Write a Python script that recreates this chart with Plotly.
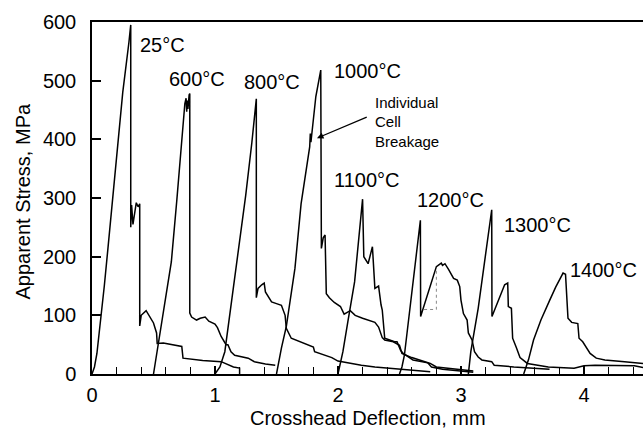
import plotly.graph_objects as go

# ---- data ----
t25_x = [0, 0.02, 0.04, 0.06, 0.08, 0.10, 0.13, 0.17, 0.20, 0.25, 0.30, 0.315,
         0.315, 0.322, 0.333, 0.36, 0.375, 0.388, 0.388,
         0.40, 0.44, 0.47, 0.50, 0.525, 0.53, 0.58, 0.66, 0.73, 0.74,
         0.90, 1.05, 1.10, 1.15, 1.20, 1.20]
t25_y = [0, 12, 35, 70, 108, 150, 215, 300, 370, 480, 565, 595,
         250, 288, 255, 292, 285, 290, 82,
         100, 108, 98, 87, 70, 52, 53, 50, 47, 27,
         23, 21, 17, 12, 10, 0]

t600_x = [0.50, 0.54, 0.58, 0.645, 0.69, 0.72, 0.755, 0.765, 0.77, 0.775, 0.78, 0.79, 0.795,
          0.795, 0.81, 0.85, 0.88, 0.92, 0.95, 1.00, 1.02, 1.05, 1.09, 1.105, 1.13,
          1.16, 1.20, 1.27, 1.32, 1.41, 1.49]
t600_y = [0, 55, 106, 191, 297, 380, 461, 470, 447, 466, 452, 476, 478,
          104, 97, 92, 95, 97, 90, 85, 79, 64, 50, 50, 38,
          32, 30, 27, 21, 17, 15]

t800_x = [1.00, 1.04, 1.08, 1.105, 1.15, 1.20, 1.25, 1.30, 1.336,
          1.336, 1.35, 1.38, 1.40, 1.41, 1.46, 1.50, 1.54, 1.57, 1.58, 1.62,
          1.69, 1.75, 1.80, 1.81, 1.85, 1.95, 2.00, 2.10, 2.19, 2.30, 2.50, 2.75]
t800_y = [0, 12, 38, 78, 150, 225, 305, 395, 469,
          130, 146, 152, 155, 140, 123, 120, 117, 100, 78, 61,
          55, 50, 46, 38, 35, 28, 22, 18, 15, 12, 9, 4]

t1000_x = [1.50, 1.54, 1.58, 1.65, 1.70, 1.75, 1.77, 1.775, 1.78, 1.82, 1.86,
           1.865, 1.88, 1.895, 1.905, 1.93, 1.97, 2.02, 2.05, 2.10, 2.14, 2.20,
           2.24, 2.30, 2.33, 2.36, 2.38, 2.45, 2.50, 2.52, 2.60, 2.70, 2.75,
           2.80, 3.00, 3.10]
t1000_y = [0, 44, 81, 180, 290, 365, 387, 410, 395, 473, 518,
           214, 232, 237, 137, 130, 122, 115, 102, 108, 100, 95,
           92, 88, 80, 62, 58, 55, 49, 35, 28, 21, 18,
           12, 8, 5]

t1100_x = [2.00, 2.04, 2.08, 2.135, 2.20, 2.21, 2.245, 2.28, 2.30, 2.33, 2.35,
           2.36, 2.38, 2.46, 2.48, 2.51, 2.53, 2.61, 2.73, 2.76, 2.85, 3.00, 3.10]
t1100_y = [0, 38, 89, 157, 298, 200, 188, 217, 146, 150, 118,
           109, 61, 55, 55, 40, 35, 24, 19, 12, 8, 5, 3]

t1200_x = [2.50, 2.52, 2.54, 2.60, 2.67, 2.672, 2.80, 2.82, 2.84, 2.85, 2.87,
           2.90, 2.94, 2.97, 2.99, 3.00, 3.02, 3.05, 3.06, 3.09, 3.11, 3.14,
           3.17, 3.25, 3.27, 3.43, 3.60, 3.72]
t1200_y = [0, 12, 32, 140, 262, 98, 183, 186, 189, 185, 188,
           178, 163, 160, 149, 126, 103, 92, 70, 58, 38, 29,
           24, 21, 15, 12, 10, 8]

t1200_dot_x = [2.70, 2.80, 2.80]
t1200_dot_y = [110, 110, 180]

t1300_x = [3.06, 3.08, 3.14, 3.25, 3.252, 3.355, 3.38, 3.385, 3.41, 3.42, 3.45,
           3.48, 3.54, 3.71, 3.92, 4.00, 4.09, 4.25, 4.41, 4.48]
t1300_y = [0, 38, 112, 280, 98, 152, 155, 115, 112, 61, 45,
           28, 18, 12, 10, 14, 15, 15, 14, 11]

t1400_x = [3.51, 3.55, 3.59, 3.65, 3.72, 3.77, 3.83, 3.85, 3.87, 3.90, 3.95,
           3.96, 3.99, 4.05, 4.10, 4.17, 4.33, 4.41, 4.48]
t1400_y = [0, 25, 58, 92, 125, 148, 172, 170, 95, 88, 86,
           61, 55, 35, 27, 24, 21, 19, 18]

labels = ["25°C", "600°C", "800°C", "1000°C", "1100°C", "1200°C", "1300°C", "1400°C"]
label_x = [0.374, 0.61, 1.22, 1.95, 1.95, 2.63, 3.33, 3.87]
label_y = [561, 503, 498, 516, 331, 297, 254, 177]

note_lines = ["Individual", "Cell", "Breakage"]
note_y = [462, 430, 397]

x_ticks = [0, 1, 2, 3, 4]
y_ticks = [0, 100, 200, 300, 400, 500, 600]

FONT = "Liberation Sans, Arial, Helvetica, sans-serif"

fig = go.Figure()
for xs, ys in [(t25_x, t25_y), (t600_x, t600_y), (t800_x, t800_y), (t1000_x, t1000_y),
               (t1100_x, t1100_y), (t1200_x, t1200_y), (t1300_x, t1300_y), (t1400_x, t1400_y)]:
    fig.add_trace(go.Scatter(x=xs, y=ys, mode="lines",
                             line=dict(color="black", width=1.5),
                             showlegend=False, hoverinfo="skip"))
fig.add_trace(go.Scatter(x=t1200_dot_x, y=t1200_dot_y, mode="lines",
                         line=dict(color="#888888", width=1, dash="dot"),
                         showlegend=False, hoverinfo="skip"))

for t, lx, ly in zip(labels, label_x, label_y):
    fig.add_annotation(x=lx, y=ly, text=t, showarrow=False, xanchor="left",
                       yanchor="middle", font=dict(size=20, color="black", family=FONT))

for t, ny in zip(note_lines, note_y):
    fig.add_annotation(x=2.285, y=ny, text=t, showarrow=False,
                       xanchor="left", yanchor="middle",
                       font=dict(size=15, color="black", family=FONT))
fig.add_annotation(x=1.829, y=402, ax=2.246, ay=439, axref="x", ayref="y",
                   text="", showarrow=True, arrowhead=2, arrowsize=1,
                   arrowwidth=1.3, arrowcolor="black")

fig.add_annotation(xref="paper", yref="paper", x=-0.127, y=0.49,
                   text="Apparent Stress, MPa", textangle=-90, showarrow=False,
                   xanchor="center", yanchor="middle",
                   font=dict(size=20, color="black", family=FONT))
fig.add_annotation(xref="paper", yref="paper", x=0.5, y=-0.125,
                   text="Crosshead Deflection, mm", showarrow=False,
                   xanchor="center", yanchor="middle",
                   font=dict(size=20, color="black", family=FONT))

fig.update_layout(
    width=643, height=429,
    margin=dict(l=92, r=0, t=22, b=55),
    plot_bgcolor="white", paper_bgcolor="white",
    font=dict(family=FONT, size=20, color="black"),
    xaxis=dict(range=[0, 4.48], tickvals=x_ticks, ticks="inside", ticklen=8,
               tickwidth=1.5, tickcolor="black", showgrid=False, zeroline=False,
               showline=True, linecolor="black", linewidth=2, mirror=True,
               ticklabelstandoff=2,
               minor=dict(dtick=0.2, ticks="inside", ticklen=7, tickwidth=1.2,
                          tickcolor="black", showgrid=False)),
    yaxis=dict(range=[0, 600], tickvals=y_ticks, ticks="inside", ticklen=9,
               tickwidth=1.5, tickcolor="black", showgrid=False, zeroline=False,
               showline=True, linecolor="black", linewidth=1.5,
               ticklabelstandoff=10),
)

fig.write_html("out.html")
